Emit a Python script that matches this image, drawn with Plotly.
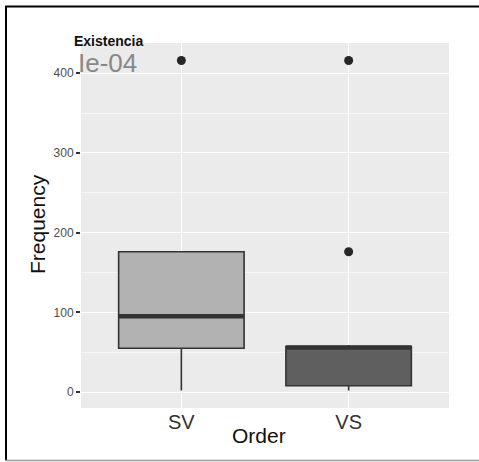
import plotly.graph_objects as go

# Box statistics per order
orders = ["SV", "VS"]
q1 = [55, 8]
medians = [95, 56]
q3 = [176, 57]
lower_whisker = [2, 2]
upper_whisker = [176, 59]
outliers = [[416], [176, 416]]
fills = ["#b2b2b2", "#5f5f5f"]

y_ticks = [0, 100, 200, 300, 400]
y_range = [-20, 438]

W, H = 479, 462
ML, MR, MT, MB = 81, 30, 43, 54
BOX_W = 0.75
EDGE = "#333333"
FONT = "Liberation Sans, Arial, sans-serif"


def px_x(px):
    return (px - ML) / (W - ML - MR)


def px_y(py):
    return (H - MB - py) / (H - MT - MB)


fig = go.Figure()

for i, name in enumerate(orders):
    fig.add_trace(go.Box(
        x=[name], q1=[q1[i]], median=[medians[i]], q3=[q3[i]],
        lowerfence=[lower_whisker[i]], upperfence=[upper_whisker[i]],
        fillcolor=fills[i], line=dict(color=EDGE, width=1.6),
        width=BOX_W, whiskerwidth=0, boxpoints=False,
        showlegend=False, hoverinfo="skip",
    ))
    fig.add_trace(go.Scatter(
        x=[name] * len(outliers[i]), y=outliers[i], mode="markers",
        marker=dict(color="#262626", size=9), showlegend=False,
    ))
    # thicker median bar
    fig.add_shape(type="line", xref="x", yref="y",
                  x0=i - BOX_W / 2, x1=i + BOX_W / 2,
                  y0=medians[i], y1=medians[i],
                  line=dict(color=EDGE, width=4.5), layer="above")

fig.update_layout(
    width=W, height=H,
    margin=dict(l=ML, r=MR, t=MT, b=MB),
    paper_bgcolor="white", plot_bgcolor="#ebebeb",
    font=dict(family=FONT),
    xaxis=dict(
        type="category", categoryorder="array", categoryarray=orders,
        range=[-0.6, 1.6], showgrid=True, gridcolor="white", gridwidth=1.3,
        zeroline=False, showline=False, ticks="",
        tickfont=dict(size=20, color="#333333"),
    ),
    yaxis=dict(
        range=y_range, tickvals=y_ticks, showgrid=True, gridcolor="white",
        gridwidth=1.3, zeroline=False, showline=False,
        ticks="outside", ticklen=4, tickwidth=1.5, tickcolor=EDGE,
        tickfont=dict(size=12, color="#4d4d4d"),
        minor=dict(tick0=0, dtick=50, showgrid=True, gridcolor="#f6f6f6",
                   gridwidth=0.7, ticks=""),
    ),
)


def label(text, x, y, size, color, xanchor="center", angle=0):
    fig.add_annotation(text=text, textangle=angle, xref="paper", yref="paper",
                       x=px_x(x), y=px_y(y), xanchor=xanchor, yanchor="middle",
                       showarrow=False, borderpad=0,
                       font=dict(size=size, color=color))


label("Frequency", 37, 224, 21, "#111111", angle=-90)
label("Order", 259, 435, 21, "#111111")
label("<b>Existencia</b>", 73, 41, 14, "#111111", xanchor="left")
label("Ie-04", 77, 63, 26, "#888888", xanchor="left")

# frame around the figure
fig.add_shape(type="line", xref="paper", yref="paper",
              x0=px_x(6), x1=px_x(6), y0=px_y(6), y1=px_y(460),
              line=dict(color="black", width=2))
fig.add_shape(type="line", xref="paper", yref="paper",
              x0=px_x(5), x1=px_x(479), y0=px_y(6.5), y1=px_y(6.5),
              line=dict(color="black", width=2))
fig.add_shape(type="line", xref="paper", yref="paper",
              x0=px_x(5), x1=px_x(479), y0=px_y(460.5), y1=px_y(460.5),
              line=dict(color="#9a9a9a", width=1.5))

fig.write_html("out.html")
